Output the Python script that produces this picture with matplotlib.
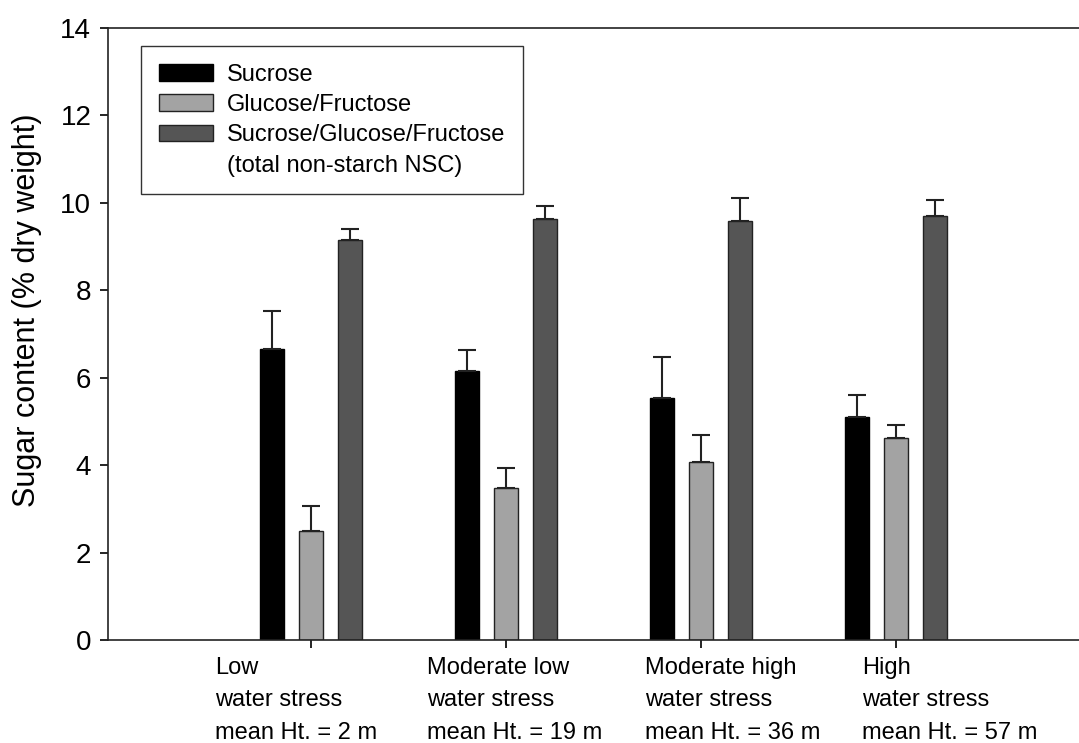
#!/usr/bin/env python3
# sugar content bar chart by water stress class
import matplotlib.pyplot as plt
import matplotlib.transforms as mtransforms
import numpy as np

groups = ['Low\nwater stress\nmean Ht. = 2 m',
          'Moderate low\nwater stress\nmean Ht. = 19 m',
          'Moderate high\nwater stress\nmean Ht. = 36 m',
          'High\nwater stress\nmean Ht. = 57 m']

sucrose = [6.65, 6.15, 5.53, 5.10]
sucrose_err = [0.87, 0.48, 0.94, 0.51]
glucose = [2.49, 3.47, 4.08, 4.61]
glucose_err = [0.58, 0.46, 0.60, 0.31]
total = [9.14, 9.62, 9.59, 9.70]
total_err = [0.27, 0.31, 0.51, 0.36]

plt.rcParams['font.family'] = ['Liberation Sans', 'DejaVu Sans']

fig = plt.figure(figsize=(10.79, 7.43), dpi=100)
ax = fig.add_axes([0.1001, 0.1386, 0.8999, 0.8237])

x = np.arange(len(groups))
w = 0.123
off = 0.2
ekw = dict(ecolor='#222222', elinewidth=1.5, capsize=6.8, capthick=1.5)

def up_only(e):
    return [np.zeros(len(e)), e]

ax.bar(x - off, sucrose, w, color='black', edgecolor='black', lw=1,
       yerr=up_only(sucrose_err), error_kw=ekw, label='Sucrose')
ax.bar(x, glucose, w, color='#a3a3a3', edgecolor='#222222', lw=1,
       yerr=up_only(glucose_err), error_kw=ekw, label='Glucose/Fructose')
ax.bar(x + off, total, w, color='#555555', edgecolor='#222222', lw=1,
       yerr=up_only(total_err), error_kw=ekw, label='Sucrose/Glucose/Fructose')
# second line of the legend entry, without a handle
ax.bar([0], [0], 0, color='none', edgecolor='none', label='(total non-starch NSC)')

ax.set_xlim(-1.04, 3.94)
ax.set_ylim(0, 14)
ax.set_yticks(np.arange(0, 15, 2))
ax.set_xticks(x)
ax.set_xticklabels([])
ax.tick_params(axis='y', direction='out', length=6, width=1.2, labelsize=20, pad=6)
ax.tick_params(axis='x', direction='out', length=6, width=1.2)
ax.spines['right'].set_visible(False)
for s in ['left', 'top', 'bottom']:
    ax.spines[s].set_linewidth(1.2)
    ax.spines[s].set_color('#222222')

ax.set_ylabel('Sugar content (% dry weight)', fontsize=22)
ax.yaxis.set_label_coords(-0.068, 0.539)

# multi-line category labels under the axis
label_offsets = [-0.492, -0.405, -0.287, -0.174]
trans = mtransforms.blended_transform_factory(ax.transData, ax.transAxes)
for xi, lab, o in zip(x, groups, label_offsets):
    ax.text(xi + o, -0.028, lab, transform=trans, ha='left', va='top',
            fontsize=17, linespacing=1.6)

leg = ax.legend(loc='upper left', bbox_to_anchor=(0.034, 0.9706), fontsize=17,
                frameon=True, fancybox=False, edgecolor='black',
                handlelength=2.3, handleheight=0.7, handletextpad=0.6,
                labelspacing=0.35, borderpad=0.75, borderaxespad=0)
leg.get_frame().set_linewidth(1.0)

fig.savefig('out.png', dpi=100)
